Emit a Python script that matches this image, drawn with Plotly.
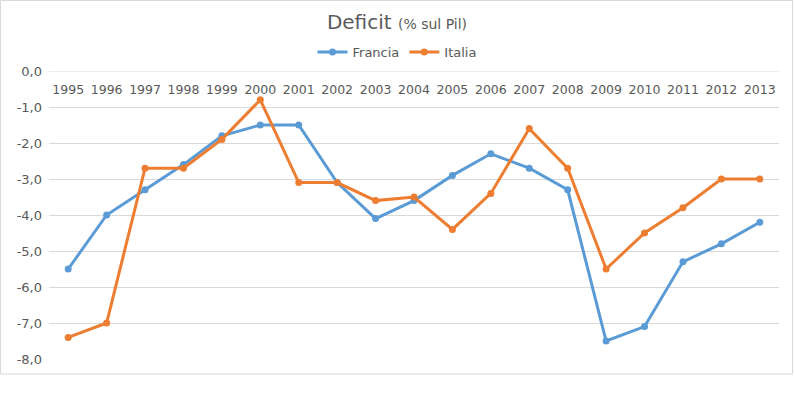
import plotly.graph_objects as go

years = [str(y) for y in range(1995, 2014)]
francia = [-5.5, -4.0, -3.3, -2.6, -1.8, -1.5, -1.5, -3.1, -4.1, -3.6, -2.9, -2.3, -2.7, -3.3, -7.5, -7.1, -5.3, -4.8, -4.2]
italia = [-7.4, -7.0, -2.7, -2.7, -1.9, -0.8, -3.1, -3.1, -3.6, -3.5, -4.4, -3.4, -1.6, -2.7, -5.5, -4.5, -3.8, -3.0, -3.0]
y_tickvals = [0, -1, -2, -3, -4, -5, -6, -7, -8]
y_ticktext = ["0,0", "-1,0", "-2,0", "-3,0", "-4,0", "-5,0", "-6,0", "-7,0", "-8,0"]

FONT = "DejaVu Sans"
GRAY = "#595959"

fig = go.Figure()
fig.add_trace(go.Scatter(x=years, y=francia, name="Francia", mode="lines+markers",
                         line=dict(color="#5B9BD5", width=3), marker=dict(size=7, color="#5B9BD5")))
fig.add_trace(go.Scatter(x=years, y=italia, name="Italia", mode="lines+markers",
                         line=dict(color="#ED7D31", width=3), marker=dict(size=7, color="#ED7D31")))

fig.update_layout(
    width=794, height=399,
    margin=dict(l=49, r=15, t=71, b=40, autoexpand=False),
    paper_bgcolor="white", plot_bgcolor="white",
    font=dict(family=FONT, color=GRAY, size=12),
    title=dict(text="Deficit <span style='font-size:14px'>(% sul Pil)</span>",
               x=0.5, xref="container", xanchor="center", y=0.945, yanchor="middle",
               font=dict(size=20, color=GRAY, family=FONT)),
    legend=dict(orientation="h", x=0.5, xref="container", xanchor="center",
                y=1.066, yanchor="middle",
                font=dict(size=13, color=GRAY, family=FONT), itemwidth=30,
                bgcolor="rgba(0,0,0,0)"),
    showlegend=True,
    xaxis=dict(type="category", side="top", ticklabelposition="inside",
               range=[-0.5, len(years) - 0.5],
               ticklabeloverflow="allow", automargin=False, ticklabelstandoff=11,
               showgrid=False, showline=False, ticks="", zeroline=False,
               tickfont=dict(size=12.5, color=GRAY, family=FONT)),
    yaxis=dict(range=[-8, 0], tickvals=y_tickvals, ticktext=y_ticktext,
               automargin=False, ticklabeloverflow="allow",
               showgrid=True, gridcolor="#D9D9D9", gridwidth=1, zeroline=False,
               showline=False, ticks="", ticklabelstandoff=6,
               tickfont=dict(size=13, color=GRAY, family=FONT)),
)
fig.add_shape(type="line", xref="paper", yref="y", x0=0, x1=1, y0=0, y1=0,
              line=dict(color="#D9D9D9", width=1), layer="below")
fig.add_shape(type="rect", xref="paper", yref="paper",
              x0=(0.5 - 49) / 730, x1=(792.5 - 49) / 730,
              y0=(359 - 374) / 288, y1=(359 - 0.5) / 288,
              line=dict(color="#D9D9D9", width=1), fillcolor="rgba(0,0,0,0)", layer="below")

fig.write_html("out.html", config={"displayModeBar": False},
               post_script="document.body.style.margin='0';")
